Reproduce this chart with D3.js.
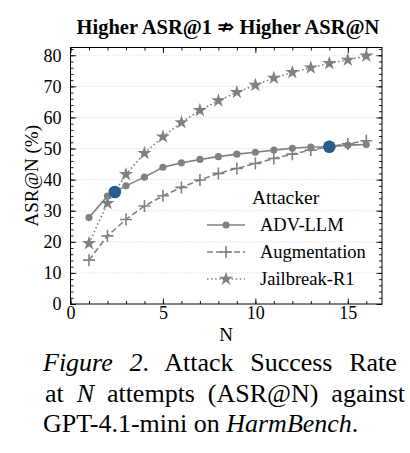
<!DOCTYPE html>
<html><head><meta charset="utf-8">
<script src="https://cdn.jsdelivr.net/npm/d3@7"></script>
<style>body{margin:0;background:#fff}svg{display:block}
svg text{font-family:"Liberation Serif","Times New Roman",Times,"DejaVu Serif",serif !important;}</style>
</head><body><svg id="c" width="410" height="453"></svg>
<script>
const attempts = [1,2,3,4,5,6,7,8,9,10,11,12,13,14,15,16];
const advLLM = [27.8,34.7,38.0,40.8,44.0,45.4,46.5,47.4,48.2,48.8,49.5,50.1,50.5,50.6,51.1,51.3];
const augmentation = [14.1,21.9,27.2,31.5,34.8,37.5,39.9,42.0,43.6,45.2,46.8,48.2,49.5,50.6,51.5,52.5];
const jailbreakR1 = [19.5,32.4,41.7,48.5,53.8,58.4,62.3,65.4,68.1,70.4,72.7,74.5,76.0,77.4,78.5,79.8];
const highlights = [{n:2.4,v:36.0},{n:14,v:50.6}];
const xTicks = [0,5,10,15];
const yTicks = [0,10,20,30,40,50,60,70,80];
const seriesNames = ["ADV-LLM","Augmentation","Jailbreak-R1"];

const svg = d3.select("#c");
const L=70.5,R=382,T=47.5,B=304;
const x = d3.scaleLinear().domain([0,16.85]).range([L,R]);
const y = d3.scaleLinear().domain([0,82.5]).range([B,T]);
const gray = "#808080";

// grid
svg.append("g").selectAll("line").data(yTicks.filter(v=>v>0)).join("line")
  .attr("x1",L).attr("x2",R).attr("y1",d=>y(d)).attr("y2",d=>y(d))
  .attr("stroke","#c8c8c8").attr("stroke-width",0.8).attr("stroke-dasharray","1,2");

// axes
function ax(gen, tr, vals, len, labels){
  const g = svg.append("g").attr("transform",tr).call(gen.tickValues(vals).tickSize(len).tickFormat(labels?d3.format("d"):""));
  g.select(".domain").remove();
  g.selectAll("line").attr("stroke","#000").attr("stroke-width",0.9);
  g.selectAll("text").attr("font-size",18).attr("fill","#000");
  return g;
}
const xMinor = d3.range(0,17,1), yMinor = d3.range(0,83,2);
ax(d3.axisBottom(x), `translate(0,${B})`, xMinor, -3, false);
ax(d3.axisBottom(x), `translate(0,${B})`, xTicks, -5.5, true).selectAll("text").attr("dy","0.2em").attr("transform","translate(0,8)");
ax(d3.axisTop(x), `translate(0,${T})`, xMinor, -3, false);
ax(d3.axisTop(x), `translate(0,${T})`, xTicks, -5.5, false);
ax(d3.axisLeft(y), `translate(${L},0)`, yMinor, -3, false);
ax(d3.axisLeft(y), `translate(${L},0)`, yTicks, -5.5, true).selectAll("text").attr("transform","translate(-6,0)");
ax(d3.axisRight(y), `translate(${R},0)`, yMinor, -3, false);
ax(d3.axisRight(y), `translate(${R},0)`, yTicks, -5.5, false);
svg.append("rect").attr("x",L).attr("y",T).attr("width",R-L).attr("height",B-T)
  .attr("fill","none").attr("stroke","#000").attr("stroke-width",1);

// series
const line = d3.line().x((d,i)=>x(attempts[i])).y(d=>y(d));
const styles = [
  {data:advLLM, dash:null, marker:"circle"},
  {data:augmentation, dash:"6,3", marker:"plus"},
  {data:jailbreakR1, dash:"1.5,2.6", marker:"star"}
];
const sym = {
  circle: d3.symbol(d3.symbolCircle, 40),
  star: d3.symbol(d3.symbolStar, 62)
};
function drawMarker(g, type, cx, cy){
  if(type==="plus"){
    g.append("path").attr("d",`M${cx-6},${cy}H${cx+6}M${cx},${cy-6}V${cy+6}`)
      .attr("stroke",gray).attr("stroke-width",1.6).attr("fill","none");
  } else {
    g.append("path").attr("d",sym[type]()).attr("transform",`translate(${cx},${cy})`).attr("fill",gray);
  }
}
const sg = svg.append("g");
styles.forEach(s=>{
  sg.append("path").attr("d",line(s.data)).attr("fill","none").attr("stroke",gray)
    .attr("stroke-width",1.6).attr("stroke-dasharray",s.dash);
  s.data.forEach((v,i)=>drawMarker(sg, s.marker, x(attempts[i]), y(v)));
});
svg.append("g").selectAll("circle").data(highlights).join("circle")
  .attr("cx",d=>x(d.n)).attr("cy",d=>y(d.v)).attr("r",6.3).attr("fill","#295b8c");

// legend
const lg = svg.append("g");
lg.append("text").attr("x",252).attr("y",204).text("Attacker").attr("font-size",19.5);
styles.forEach((s,i)=>{
  const cy = 225 + i*27;
  lg.append("line").attr("x1",207).attr("x2",245).attr("y1",cy).attr("y2",cy)
    .attr("stroke",gray).attr("stroke-width",1.6).attr("stroke-dasharray",s.dash);
  drawMarker(lg, s.marker, 226, cy);
  lg.append("text").attr("x",260).attr("y",cy+6).text(seriesNames[i]).attr("font-size",18.5);
});

// title & labels
svg.append("text").attr("x",228).attr("y",34).attr("text-anchor","middle")
  .attr("font-size",20.5).attr("font-weight","bold")
  .text("Higher ASR@1 \u21CF Higher ASR@N");
svg.append("text").attr("transform",`translate(38,${(T+B)/2}) rotate(-90)`).attr("text-anchor","middle")
  .attr("font-size",19).text("ASR@N (%)");
svg.append("text").attr("x",226).attr("y",341).attr("text-anchor","middle")
  .attr("font-size",19).text("N");

// caption (justified by word spacing)
const cap = svg.append("g").attr("font-size",26).attr("fill","#000");
function capLine(parts, x0, yb, width){
  const t = cap.append("text").attr("x",x0).attr("y",yb);
  parts.forEach(p=>t.append("tspan").attr("font-style",p[1]?"italic":null).text(p[0]));
  if(width){
    const w = t.node().getComputedTextLength();
    const spaces = parts.map(p=>p[0]).join("").split(" ").length-1;
    t.attr("word-spacing", (width-w)/spaces);
  }
}
capLine([["Figure 2",1],[".  Attack Success Rate",0]], 43, 371, 364);
capLine([["at ",0],["N",1],[" attempts (ASR@N) against",0]], 45, 402, 360);
capLine([["GPT-4.1-mini on ",0],["HarmBench",1],[".",0]], 43, 432, 0);
</script></body></html>
